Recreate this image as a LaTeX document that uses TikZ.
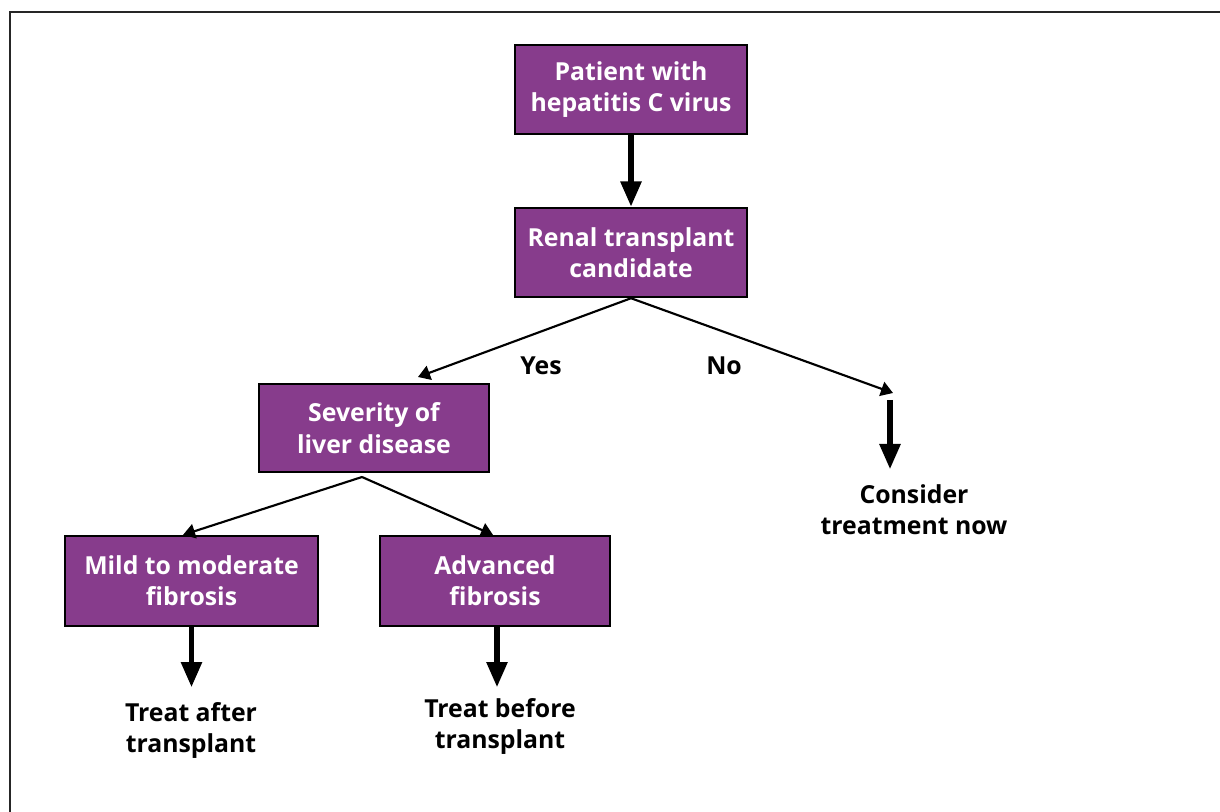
\documentclass[tikz,border=0pt]{standalone}
\usepackage{fontspec}
\setmainfont{Open Sans}
\usetikzlibrary{arrows.meta}
\definecolor{boxpurple}{RGB}{135,60,140}
\tikzset{
  flowbox/.style={draw=black, fill=boxpurple, line width=1.6pt, text=white, align=center,
    font=\bfseries\fontsize{18.6}{23.5}\selectfont, inner sep=0pt},
  plaintext/.style={align=center, font=\bfseries\fontsize{18.6}{23.5}\selectfont, inner sep=0pt},
  bigarrow/.style={line width=4.2pt, -{Triangle[width=15pt,length=19pt]}},
  thinarrow/.style={line width=1.6pt, -{Triangle[width=11pt,length=9pt]}}
}

\begin{document}
\begin{tikzpicture}[x=0.75pt,y=0.75pt,yscale=-1,xscale=1]
\useasboundingbox (0,0) rectangle (1220,812);

% frame
\draw [line width=1.3pt, black!85] (10,812) -- (10,12) -- (1220,12);

% Boxes
\node [flowbox, minimum width=174pt, minimum height=67pt] (patient) at (631,89.5) {Patient with\\hepatitis C virus};
\node [flowbox, minimum width=174pt, minimum height=67pt] (candidate) at (631,252.5) {Renal transplant\\candidate};
\node [flowbox, minimum width=172.5pt, minimum height=66pt] (severity) at (374,428) {Severity of\\liver disease};
\node [flowbox, minimum width=190pt, minimum height=67.5pt] (mild) at (191.5,581) {Mild to moderate\\fibrosis};
\node [flowbox, minimum width=172pt, minimum height=67.5pt] (advanced) at (495,581) {Advanced\\fibrosis};

% Text Node
\node [plaintext] (yes) at (541,366) {Yes};
\node [plaintext] (no) at (724,366) {No};
\node [plaintext, anchor=north] (consider) at (914,484) {Consider\\treatment now};
\node [plaintext, anchor=north] (after) at (191,702) {Treat after\\transplant};
\node [plaintext, anchor=north] (before) at (500,698) {Treat before\\transplant};

% branch points
\coordinate (yesend) at (418,377);
\coordinate (noend) at (893,393);
\coordinate (nostart) at (890,400);
\coordinate (sevsplit) at (362,477);

% Arrows
\draw [bigarrow] (patient) -- (candidate);
\draw [thinarrow] (candidate.south) -- (yesend);
\draw [thinarrow] (candidate.south) -- (noend);
\draw [bigarrow, shorten >=11pt] (nostart) -- (nostart |- consider.north);
\draw [thinarrow] (sevsplit) -- (mild.north -| 183,0);
\draw [thinarrow] (sevsplit) -- (advanced.north -| 493,0);
\draw [bigarrow, shorten >=11pt] (mild) -- (mild |- after.north);
\draw [bigarrow, shorten >=8pt] (advanced.south -| 497,0) -- (before.north -| 497,0);

\end{tikzpicture}
\end{document}
